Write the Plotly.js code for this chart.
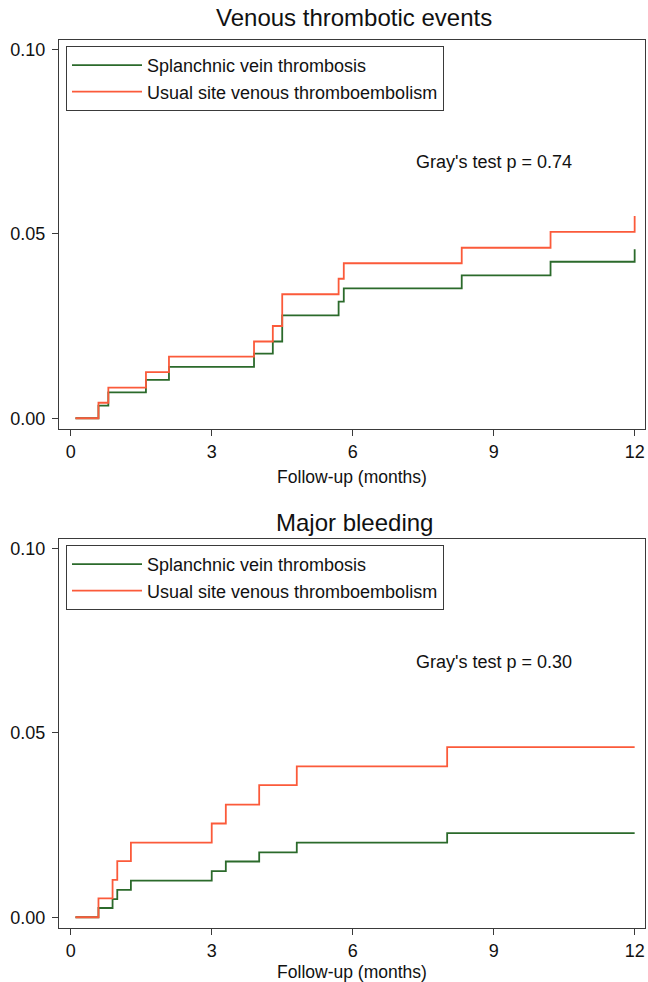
<!DOCTYPE html>
<html>
<head>
<meta charset="utf-8">
<script src="https://cdn.plot.ly/plotly-3.0.1.min.js"></script>
<style>html,body{margin:0;padding:0;background:#fff;}#chart{width:648px;height:982px;}</style>
</head>
<body>
<div id="chart"></div>
<script>
// ---- Data ----
const seriesNames = ["Splanchnic vein thrombosis", "Usual site venous thromboembolism"];
const xTicks = [0, 3, 6, 9, 12];
const yTicks = [0, 0.05, 0.10];

// Venous thrombotic events
const vteTime = [0.10, 0.59, 0.80, 1.60, 2.09, 3.90, 4.30, 4.50, 5.70, 5.81, 8.32, 10.21, 12.0];
const vteSVT  = [0, 0.0034, 0.0070, 0.0104, 0.0139, 0.0175, 0.0208, 0.0279, 0.0316, 0.0352, 0.0387, 0.0424, 0.0458];
const vteUsual= [0, 0.0042, 0.0083, 0.0125, 0.0167, 0.0208, 0.0250, 0.0336, 0.0378, 0.0420, 0.0462, 0.0505, 0.0548];
const vteTest = "Gray's test p = 0.74";

// Major bleeding
const mbTime  = [0.10, 0.59, 0.89, 0.99, 1.28, 3.00, 3.30, 4.01, 4.81, 8.01, 12.0];
const mbSVT   = [0, 0.0025, 0.0049, 0.0074, 0.0099, 0.0125, 0.0151, 0.0176, 0.0202, 0.0228, 0.0228];
const mbUsual = [0, 0.0051, 0.0101, 0.0152, 0.0202, 0.0254, 0.0305, 0.0358, 0.0409, 0.0461, 0.0461];
const mbTest  = "Gray's test p = 0.30";

const titles = ["Venous thrombotic events", "Major bleeding"];
const xTitle = "Follow-up (months)";

// ---- Styling ----
const W = 648, H = 982;
const FONT = "Liberation Sans, Arial, Helvetica, sans-serif";
const GREEN = "#2b6a2b", ORANGE = "#fb5a3a";
const frame = "#3a3a3a";

function tr(x, y, name, color, xa, ya, lg) {
  return {x: x, y: y, name: name, type: "scatter", mode: "lines",
    line: {shape: "hv", color: color, width: 1.8},
    xaxis: xa, yaxis: ya, legend: lg, legendgroup: lg + name, hoverinfo: "skip"};
}

const data = [
  tr(vteTime, vteSVT, seriesNames[0], GREEN, "x", "y", "legend"),
  tr(vteTime, vteUsual, seriesNames[1], ORANGE, "x", "y", "legend"),
  tr(mbTime, mbSVT, seriesNames[0], GREEN, "x2", "y2", "legend2"),
  tr(mbTime, mbUsual, seriesNames[1], ORANGE, "x2", "y2", "legend2")
];

const xDom = [59 / W, 645 / W];
const topDom = [(H - 429.3) / H, (H - 40) / H];
const botDom = [(H - 928.3) / H, (H - 539) / H];

function xaxis(anchor, dom) {
  return {domain: xDom, anchor: anchor, range: [-0.25, 12.22], tickvals: xTicks,
    ticktext: xTicks.map(String), ticks: "outside", ticklen: 6, tickcolor: frame, tickwidth: 1,
    showline: true, mirror: true, linecolor: frame, linewidth: 1, showgrid: false, zeroline: false,
    tickfont: {family: FONT, size: 18, color: "#111"},
    title: {text: xTitle, font: {family: FONT, size: 17.5, color: "#111"}, standoff: 9}};
}
function yaxis(anchor, dom) {
  return {domain: dom, anchor: anchor, range: [-0.003, 0.1025], tickvals: yTicks,
    ticktext: yTicks.map(v => v.toFixed(2)), ticks: "outside", ticklen: 6, tickcolor: frame, tickwidth: 1,
    showline: true, mirror: true, linecolor: frame, linewidth: 1, showgrid: false, zeroline: false,
    ticklabelstandoff: 3,
    tickfont: {family: FONT, size: 18, color: "#111"}};
}
function legend(ytop) {
  return {x: 66 / W, y: (H - ytop) / H, xanchor: "left", yanchor: "top", xref: "paper", yref: "paper",
    bgcolor: "#fff", bordercolor: frame, borderwidth: 1, traceorder: "grouped", tracegroupgap: 0,
    font: {family: FONT, size: 18, color: "#111"}, itemwidth: 70};
}

const layout = {
  width: W, height: H, margin: {l: 0, r: 0, t: 0, b: 0},
  paper_bgcolor: "#fff", plot_bgcolor: "#fff", showlegend: true,
  xaxis: xaxis("y", topDom), yaxis: yaxis("x", topDom),
  xaxis2: xaxis("y2", botDom), yaxis2: yaxis("x2", botDom),
  legend: legend(46), legend2: legend(545),
  annotations: [
    {text: titles[0], xref: "paper", yref: "paper", x: 354 / W, y: (H - 18) / H, xanchor: "center", yanchor: "middle",
     showarrow: false, font: {family: FONT, size: 24, color: "#111"}},
    {text: titles[1], xref: "paper", yref: "paper", x: 354 / W, y: (H - 522) / H, xanchor: "center", yanchor: "middle",
     showarrow: false, font: {family: FONT, size: 24, color: "#111"}},
    {text: vteTest, xref: "x", yref: "y", x: 9.0, y: 0.0695, xanchor: "center", yanchor: "middle",
     showarrow: false, font: {family: FONT, size: 18, color: "#111"}},
    {text: mbTest, xref: "x2", yref: "y2", x: 9.0, y: 0.0693, xanchor: "center", yanchor: "middle",
     showarrow: false, font: {family: FONT, size: 18, color: "#111"}}
  ]
};

Plotly.newPlot("chart", data, layout, {displayModeBar: false, staticPlot: true});
</script>
</body>
</html>
